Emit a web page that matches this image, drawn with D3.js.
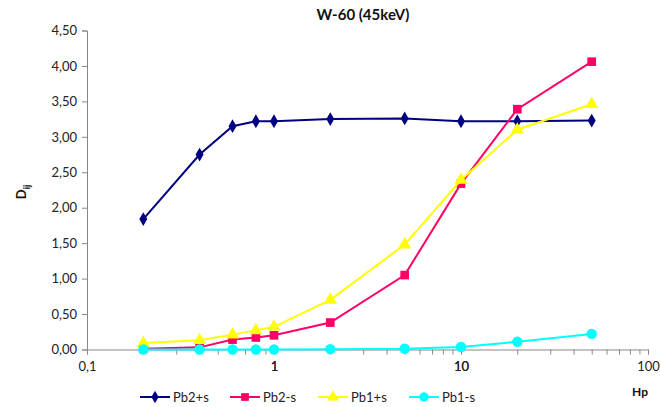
<!DOCTYPE html>
<html><head><meta charset="utf-8">
<script src="https://cdn.jsdelivr.net/npm/d3@7"></script>
<style>body{margin:0;background:#fff}svg{display:block}text{font-family:Lato,"Open Sans",sans-serif}</style>
</head><body>
<svg id="c" width="660" height="407"></svg>
<script>
const hp = [0.2, 0.4, 0.6, 0.8, 1, 2, 5, 10, 20, 50];
const pb2PlusS = [1.84, 2.75, 3.15, 3.22, 3.22, 3.25, 3.26, 3.22, 3.22, 3.23];
const pb2MinusS = [0.01, 0.03, 0.14, 0.17, 0.20, 0.38, 1.05, 2.34, 3.39, 4.06];
const pb1PlusS = [0.09, 0.13, 0.21, 0.27, 0.32, 0.70, 1.48, 2.39, 3.10, 3.46];
const pb1MinusS = [0.00, 0.00, 0.00, 0.00, 0.00, 0.005, 0.01, 0.035, 0.11, 0.22];
const seriesNames = ["Pb2+s", "Pb2-s", "Pb1+s", "Pb1-s"];
const yTicks = [0, 0.5, 1, 1.5, 2, 2.5, 3, 3.5, 4, 4.5];
const xTicks = [0.1, 1, 10, 100];

const series = [
  {name: seriesNames[0], vals: pb2PlusS, color: "#000080", sym: d3.symbolDiamond, size: 55},
  {name: seriesNames[1], vals: pb2MinusS, color: "#FF0066", sym: d3.symbolSquare, size: 75},
  {name: seriesNames[2], vals: pb1PlusS, color: "#FFFF00", sym: d3.symbolTriangle, size: 75},
  {name: seriesNames[3], vals: pb1MinusS, color: "#00FFFF", sym: d3.symbolCircle, size: 85}
];

const svg = d3.select("#c");
const x = d3.scaleLog().domain([0.1, 100]).range([87, 648]);
const y = d3.scaleLinear().domain([0, 4.5]).range([349.5, 30.5]);
const fmt = v => v.toFixed(2).replace(".", ",");
const fmtX = v => String(v).replace(".", ",");

const ya = svg.append("g").attr("transform", "translate(87,0)")
  .call(d3.axisLeft(y).tickValues(yTicks).tickFormat(fmt).tickSize(5).tickPadding(5));
const minor = [];
for (let d = 0.1; d < 100; d *= 10) for (let k = 1; k <= 10; k++) minor.push(+(d * k).toPrecision(3));
const xa = svg.append("g").attr("transform", "translate(0,349.5)")
  .call(d3.axisBottom(x).tickValues(minor).tickFormat(v => xTicks.includes(v) ? fmtX(v) : "").tickSize(5).tickPadding(7));
[ya, xa].forEach(g => {
  g.select(".domain").attr("stroke", "#888");
  g.selectAll(".tick line").attr("stroke", "#888");
  g.selectAll("text").attr("fill", "#222").style("font-size", "13px").attr("font-family", "Lato, sans-serif");
});

const line = d3.line().x((d, i) => x(hp[i])).y(d => y(d));
series.forEach(s => {
  svg.append("path").attr("d", line(s.vals)).attr("fill", "none").attr("stroke", s.color).attr("stroke-width", 2);
  svg.append("g").selectAll("path").data(s.vals).join("path")
    .attr("transform", (d, i) => `translate(${x(hp[i])},${y(d)})`)
    .attr("d", d3.symbol(s.sym, s.size)).attr("fill", s.color);
});

svg.append("text").attr("x", 363).attr("y", 20).attr("text-anchor", "middle")
  .style("font-size", "15px").style("font-weight", "bold").attr("fill", "#111").text("W-60 (45keV)");
const yl = svg.append("text").attr("transform", "translate(26,192) rotate(-90)").attr("text-anchor", "middle")
  .style("font-size", "13px").style("font-weight", "bold").attr("fill", "#111");
yl.append("tspan").text("D");
yl.append("tspan").attr("dy", 4).style("font-size", "9px").text("ij");
svg.append("text").attr("x", 640).attr("y", 396).attr("text-anchor", "middle")
  .style("font-size", "12px").style("font-weight", "bold").attr("fill", "#111").text("Hp");

const legX = [140, 230, 318, 409];
const ly = 397;
series.forEach((s, i) => {
  const g = svg.append("g").attr("transform", `translate(${legX[i]},${ly})`);
  g.append("line").attr("x1", 0).attr("x2", 30).attr("stroke", s.color).attr("stroke-width", 2);
  g.append("path").attr("transform", "translate(15,0)").attr("d", d3.symbol(s.sym, s.size * 0.8)).attr("fill", s.color);
  g.append("text").attr("x", 33).attr("y", 5).style("font-size", "13px").attr("fill", "#222").text(s.name);
});
</script>
</body></html>
